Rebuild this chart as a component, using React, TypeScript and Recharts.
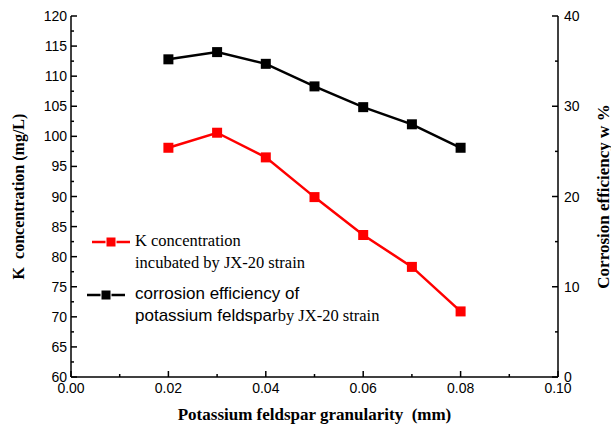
import React from "react";
import { LineChart, Line, XAxis, YAxis, Legend } from "recharts";

const granularity = [0.02, 0.03, 0.04, 0.05, 0.06, 0.07, 0.08];
const kConcentration = [98.1, 100.6, 96.5, 89.9, 83.6, 78.3, 70.9];
const corrosionEfficiency = [35.2, 36.0, 34.7, 32.2, 29.9, 28.0, 25.4];

const xTicks = [0, 0.01, 0.02, 0.03, 0.04, 0.05, 0.06, 0.07, 0.08, 0.09, 0.1];
const leftTicks = [60, 62.5, 65, 67.5, 70, 72.5, 75, 77.5, 80, 82.5, 85, 87.5, 90, 92.5, 95, 97.5, 100, 102.5, 105, 107.5, 110, 112.5, 115, 117.5, 120];
const rightTicks = [0, 5, 10, 15, 20, 25, 30, 35, 40];

const data = granularity.map((g, i) => ({ g, k: kConcentration[i], c: corrosionEfficiency[i] }));

const SANS = "'Liberation Sans', Arial, sans-serif";
const SERIF = "'Liberation Serif', 'Times New Roman', serif";

const Square = (props: any) => {
  const { cx, cy, fill } = props;
  if (cx == null || cy == null) return null;
  return <rect x={cx - 5} y={cy - 5} width={10} height={10} fill={fill} />;
};

const LeftTick = (props: any) => {
  const { x, y, payload } = props;
  const v = payload.value;
  const major = Math.abs(v % 5) < 1e-6;
  return (
    <g>
      <line x1={x} x2={x + (major ? 6 : 3)} y1={y} y2={y} stroke="#000" strokeWidth={1.5} />
      {major && (
        <text x={x - 4} y={y} dy={5} textAnchor="end" fontFamily={SANS} fontSize={14} fill="#000">
          {v}
        </text>
      )}
    </g>
  );
};

const RightTick = (props: any) => {
  const { x, y, payload } = props;
  const v = payload.value;
  const major = v % 10 === 0;
  return (
    <g>
      <line x1={x} x2={x - (major ? 6 : 3)} y1={y} y2={y} stroke="#000" strokeWidth={1.5} />
      {major && (
        <text x={x + 6} y={y} dy={5} textAnchor="start" fontFamily={SANS} fontSize={14} fill="#000">
          {v}
        </text>
      )}
    </g>
  );
};

const BottomTick = (props: any) => {
  const { x, y, payload } = props;
  const v = payload.value;
  const idx = Math.round(v * 100);
  const major = idx % 2 === 0;
  return (
    <g>
      <line x1={x} x2={x} y1={y} y2={y - (major ? 6 : 3)} stroke="#000" strokeWidth={1.5} />
      {major && (
        <text x={x} y={y + 16} textAnchor="middle" fontFamily={SANS} fontSize={14} fill="#000">
          {v.toFixed(2)}
        </text>
      )}
    </g>
  );
};

const LegendIcon = ({ color }: { color: string }) => (
  <svg width={40} height={12} style={{ display: "block" }}>
    <line x1={0} x2={38} y1={6} y2={6} stroke={color} strokeWidth={2.5} />
    <rect x={14} y={1} width={10} height={10} fill={color} stroke="#fff" strokeWidth={1} />
  </svg>
);

const LegendContent = () => (
  <div style={{ color: "#000", whiteSpace: "nowrap" }}>
    <div style={{ position: "absolute", left: 92, top: 230, display: "flex" }}>
      <div style={{ marginTop: 6 }}>
        <LegendIcon color="#ff0000" />
      </div>
      <div style={{ marginLeft: 3, fontFamily: SERIF, fontSize: 16.5, lineHeight: "22px" }}>
        <div>K concentration</div>
        <div>incubated by JX-20 strain</div>
      </div>
    </div>
    <div style={{ position: "absolute", left: 87, top: 283, display: "flex" }}>
      <div style={{ marginTop: 6 }}>
        <LegendIcon color="#000" />
      </div>
      <div style={{ marginLeft: 8, fontFamily: SANS, fontSize: 17, lineHeight: "22px" }}>
        <div>corrosion efficiency of</div>
        <div>
          potassium feldspar<span style={{ fontFamily: SERIF, fontSize: 16.5 }}>by JX-20 strain</span>
        </div>
      </div>
    </div>
  </div>
);

export default function App() {
  return (
    <div style={{ position: "absolute", left: 0, top: 0, width: 611, height: 427, background: "#fff" }}>
      <LineChart width={611} height={427} data={data} margin={{ top: 16, right: 0, bottom: 0, left: 0 }}>
        <XAxis
          xAxisId="bottom"
          dataKey="g"
          type="number"
          domain={[0, 0.1]}
          ticks={xTicks}
          tickLine={false}
          tickSize={0}
          tickMargin={0}
          tick={<BottomTick />}
          axisLine={{ stroke: "#000", strokeWidth: 1.5 }}
          height={50}
          interval={0}
          label={{
            value: "Potassium feldspar granularity\u00a0 (mm)",
            position: "insideBottom",
            offset: 7,
            style: { fontFamily: SERIF, fontWeight: "bold", fontSize: 17, fill: "#000" },
          }}
        />
        <XAxis
          xAxisId="top"
          orientation="top"
          dataKey="g"
          type="number"
          domain={[0, 0.1]}
          tick={false}
          tickLine={false}
          axisLine={{ stroke: "#000", strokeWidth: 1.5 }}
          height={0}
        />
        <YAxis
          yAxisId="left"
          orientation="left"
          domain={[60, 120]}
          ticks={leftTicks}
          interval={0}
          width={71}
          tickLine={false}
          tickSize={0}
          tickMargin={0}
          tick={<LeftTick />}
          axisLine={{ stroke: "#000", strokeWidth: 1.5 }}
          label={{
            value: "K\u00a0 concentration (mg/L)",
            angle: -90,
            position: "insideLeft",
            offset: 18,
            style: { textAnchor: "middle", fontFamily: SERIF, fontWeight: "bold", fontSize: 16, fill: "#000" },
          }}
        />
        <YAxis
          yAxisId="right"
          orientation="right"
          domain={[0, 40]}
          ticks={rightTicks}
          interval={0}
          width={53}
          tickLine={false}
          tickSize={0}
          tickMargin={0}
          tick={<RightTick />}
          axisLine={{ stroke: "#000", strokeWidth: 1.5 }}
          label={{
            value: "Corrosion efficiency w %",
            angle: -90,
            position: "insideRight",
            offset: 8,
            style: { textAnchor: "middle", fontFamily: SERIF, fontWeight: "bold", fontSize: 17, fill: "#000" },
          }}
        />
        <Legend content={<LegendContent />} wrapperStyle={{ position: "absolute", left: 0, top: 0, width: 0, height: 0 }} />
        <Line
          xAxisId="bottom"
          yAxisId="left"
          dataKey="k"
          stroke="#ff0000"
          strokeWidth={2.5}
          dot={<Square fill="#ff0000" />}
          isAnimationActive={false}
        />
        <Line
          xAxisId="bottom"
          yAxisId="right"
          dataKey="c"
          stroke="#000"
          strokeWidth={2.5}
          dot={<Square fill="#000" />}
          isAnimationActive={false}
        />
      </LineChart>
    </div>
  );
}
